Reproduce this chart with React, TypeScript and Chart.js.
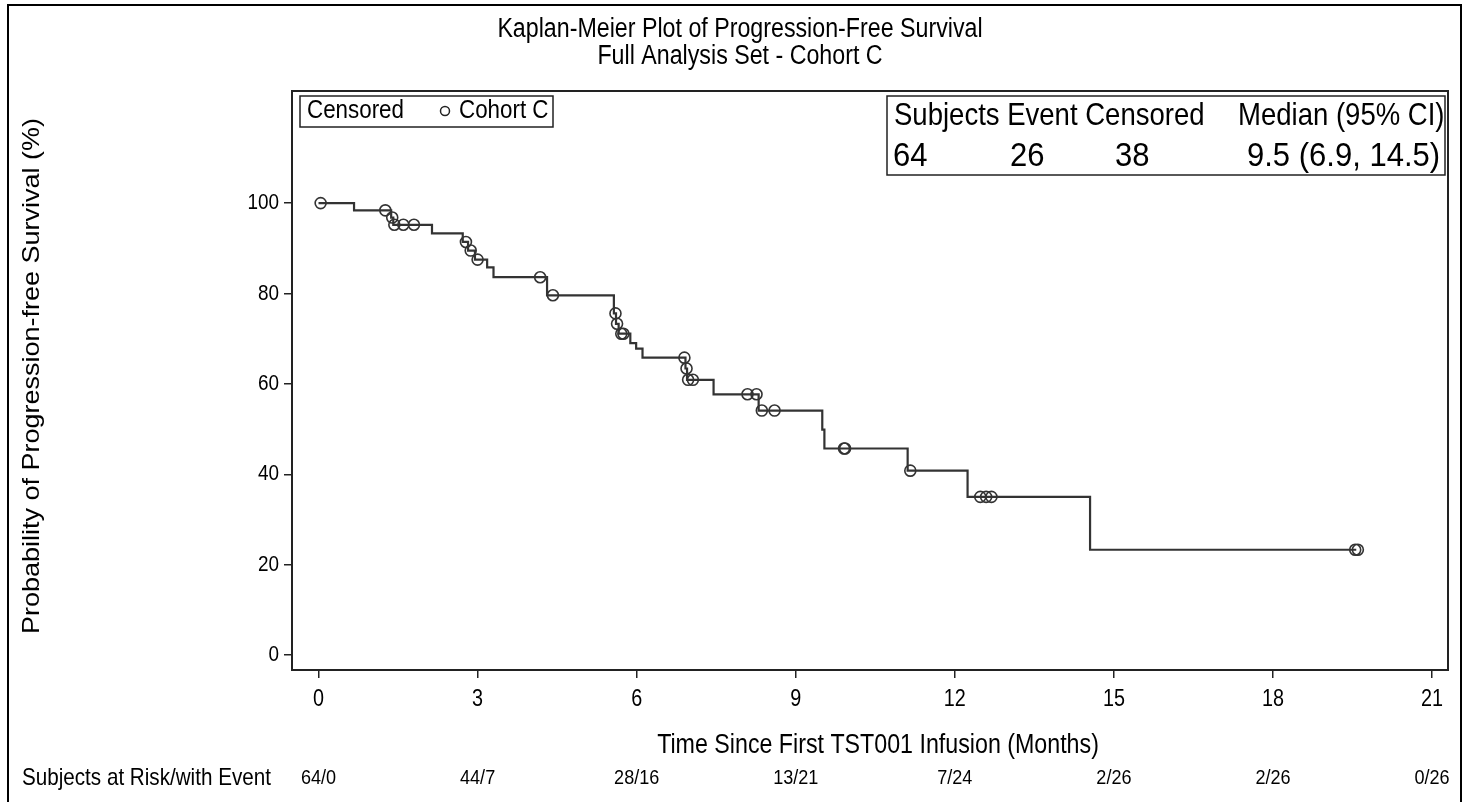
import React, { useEffect, useRef } from "react";
import { Chart, registerables } from "chart.js";

Chart.register(...registerables);

// ---- Data ----
const eventTimes = [0, 0.67, 1.37, 1.41, 2.14, 2.72, 2.82, 2.95, 3.18, 3.30, 4.31, 5.57, 5.61, 5.66, 5.88, 5.99, 6.11, 6.92, 6.95, 7.45, 8.30, 9.50, 9.54, 11.11, 12.24, 14.55, 19.57];
const survival = [100, 98.4, 96.8, 95.2, 93.3, 91.4, 89.5, 87.5, 85.8, 83.6, 79.6, 75.6, 73.3, 71.1, 69.0, 67.8, 65.8, 63.4, 60.9, 57.7, 54.1, 49.9, 45.7, 40.8, 35.0, 23.3, 23.3];

const censorTimes = [0.04, 1.26, 1.39, 1.43, 1.60, 1.80, 2.78, 2.87, 3.00, 4.18, 4.42, 5.60, 5.63, 5.71, 5.75, 6.90, 6.94, 6.97, 7.06, 8.09, 8.26, 8.36, 8.60, 9.91, 9.93, 11.16, 12.48, 12.59, 12.69, 19.55, 19.60];
const censorValues = [100, 98.4, 96.8, 95.2, 95.2, 95.2, 91.4, 89.5, 87.5, 83.6, 79.6, 75.6, 73.3, 71.1, 71.1, 65.8, 63.4, 60.9, 60.9, 57.7, 57.7, 54.1, 54.1, 45.7, 45.7, 40.8, 35.0, 35.0, 35.0, 23.3, 23.3];

const xTicks = [0, 3, 6, 9, 12, 15, 18, 21];
const yTicks = [0, 20, 40, 60, 80, 100];
const atRisk = ["64/0", "44/7", "28/16", "13/21", "7/24", "2/26", "2/26", "0/26"];

const titleLines = ["Kaplan-Meier Plot of Progression-Free Survival", "Full Analysis Set - Cohort C"];
const xTitle = "Time Since First TST001 Infusion (Months)";
const yTitle = "Probability of Progression-free Survival (%)";
const riskLabel = "Subjects at Risk/with Event";
const legendLabel = "Censored";
const seriesName = "Cohort C";
const statHeaders = ["Subjects Event Censored", "Median (95% CI)"];
const statValues = ["64", "26", "38", "9.5 (6.9, 14.5)"];

const FONT = "'Liberation Sans', Arial, sans-serif";
const INK = "#222";
const HS = 0.86;

function txt(ctx: CanvasRenderingContext2D, s: string, x: number, y: number, size: number, align: CanvasTextAlign = "left", hs = HS) {
  ctx.save();
  ctx.font = `${size}px ${FONT}`;
  ctx.fillStyle = "#000";
  ctx.textAlign = align;
  ctx.textBaseline = "middle";
  ctx.translate(x, y);
  ctx.scale(hs, 1);
  ctx.fillText(s, 0, 0);
  ctx.restore();
}

const decorPlugin = {
  id: "decor",
  afterDraw(chart: any) {
    const ctx: CanvasRenderingContext2D = chart.ctx;
    const area = chart.chartArea;
    const xs = chart.scales.x;
    const ys = chart.scales.y;
    ctx.save();
    // outer frame
    ctx.strokeStyle = "#000";
    ctx.lineWidth = 2;
    ctx.strokeRect(8, 5, 1453, 800);
    // plot frame
    ctx.strokeStyle = INK;
    ctx.lineWidth = 2;
    ctx.strokeRect(area.left, area.top, area.right - area.left, area.bottom - area.top);
    ctx.restore();

    // tick labels
    xTicks.forEach((t) => txt(ctx, String(t), xs.getPixelForValue(t), 700, 23, "center"));
    yTicks.forEach((v) => txt(ctx, String(v), 279, ys.getPixelForValue(v), 22, "right"));

    // titles
    txt(ctx, titleLines[0], 740, 30, 27, "center");
    txt(ctx, titleLines[1], 740, 57, 27, "center");
    // x title
    txt(ctx, xTitle, 878, 746, 27, "center");
    // y title (rotated)
    ctx.save();
    ctx.translate(33, 376);
    ctx.rotate(-Math.PI / 2);
    ctx.scale(1, HS);
    txt(ctx, yTitle, 0, 0, 27, "center", 1);
    ctx.restore();

    // risk table
    txt(ctx, riskLabel, 22, 778, 24, "left");
    xTicks.forEach((t, i) => {
      txt(ctx, atRisk[i], xs.getPixelForValue(t), 778, 21, "center");
    });

    // legend box
    ctx.save();
    ctx.strokeStyle = INK;
    ctx.lineWidth = 1.5;
    ctx.strokeRect(300, 96, 253, 31);
    ctx.beginPath();
    ctx.arc(445, 111, 4.5, 0, Math.PI * 2);
    ctx.stroke();
    ctx.restore();
    txt(ctx, legendLabel, 307, 111, 26, "left");
    txt(ctx, seriesName, 459, 111, 26, "left");

    // stats box
    ctx.save();
    ctx.strokeStyle = INK;
    ctx.lineWidth = 1.5;
    ctx.strokeRect(887, 96, 558, 79);
    ctx.restore();
    txt(ctx, statHeaders[0], 894, 116, 32, "left");
    txt(ctx, statHeaders[1], 1238, 116, 32, "left");
    const vx = [893, 1010, 1115, 1247];
    statValues.forEach((v, i) => txt(ctx, v, vx[i], 157, 33, "left", 0.94));
  },
};

export default function App() {
  const ref = useRef<HTMLCanvasElement>(null);
  useEffect(() => {
    document.body.style.margin = "0";
    const canvas = ref.current!;
    const chart = new Chart(canvas, {
      type: "line",
      data: {
        datasets: [
          {
            label: "KM",
            data: eventTimes.map((t, i) => ({ x: t, y: survival[i] })),
            stepped: "before",
            borderColor: "#333",
            borderWidth: 2.2,
            pointRadius: 0,
            fill: false,
          },
          {
            type: "scatter",
            label: seriesName,
            data: censorTimes.map((t, i) => ({ x: t, y: censorValues[i] })),
            pointStyle: "circle",
            pointRadius: 5.5,
            borderWidth: 1.6,
            borderColor: "#333",
            backgroundColor: "rgba(0,0,0,0)",
            showLine: false,
          } as any,
        ],
      },
      options: {
        responsive: false,
        animation: false,
        layout: { padding: { top: 91, right: 20, left: 0, bottom: 0 } },
        plugins: { legend: { display: false }, tooltip: { enabled: false }, title: { display: false } },
        scales: {
          x: {
            type: "linear",
            min: -0.5,
            max: 21.3,
            afterBuildTicks: (s: any) => { s.ticks = xTicks.map((v) => ({ value: v })); },
            afterFit: (s: any) => { s.height = 802 - 670; },
            ticks: { display: false },
            grid: { drawOnChartArea: false, drawTicks: true, tickLength: 8, color: INK, lineWidth: 1.5 },
            border: { display: true, color: INK, width: 2 },
          },
          y: {
            type: "linear",
            min: -3.3,
            max: 124.8,
            afterBuildTicks: (s: any) => { s.ticks = yTicks.map((v) => ({ value: v })); },
            afterFit: (s: any) => { s.width = 292; },
            ticks: { display: false },
            grid: { drawOnChartArea: false, drawTicks: true, tickLength: 8, color: INK, lineWidth: 1.5 },
            border: { display: true, color: INK, width: 2 },
          },
        },
      },
      plugins: [decorPlugin],
    });
    return () => chart.destroy();
  }, []);
  return <canvas ref={ref} width={1468} height={802} style={{ display: "block" }} />;
}
